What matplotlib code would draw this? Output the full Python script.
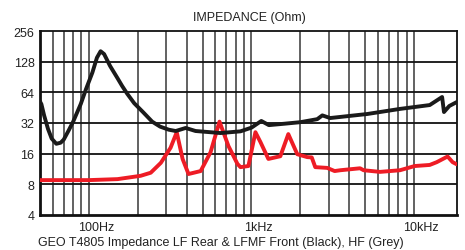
import matplotlib
matplotlib.use("Agg")
import matplotlib.pyplot as plt
from matplotlib.transforms import ScaledTranslation
from matplotlib.ticker import NullLocator, FixedLocator, NullFormatter

plt.rcParams['font.family'] = ['Liberation Sans', 'DejaVu Sans']

# Black: LF Rear & LFMF Front
black_freq = [50, 51, 53, 56, 59, 63, 67, 70, 75, 80, 89, 96, 105, 112, 118, 124, 135, 150,
              160, 172, 190, 215, 245, 274, 310, 342, 394, 453, 645, 856, 1000, 1150,
              1280, 1600, 2000, 2540, 2730, 3050, 5150, 8200, 12500, 14900, 15300, 16500,
              18400]
black_ohm = [52, 49, 38, 28, 22.5, 20, 20.5, 22, 27, 33, 49, 69, 100, 140, 162, 152, 116,
             88, 74, 62, 50, 41, 33, 29.5, 27.5, 26.7, 28.6, 26.7, 25.5, 26.5, 28.8, 33.5,
             30.5, 31.5, 32.6, 34.9, 38, 35.8, 39.2, 44, 48, 57.6, 41, 47, 51.5]

# Red: HF
red_freq = [50, 100, 150, 208, 240, 277, 318, 347, 377, 410, 487, 560, 636, 722, 820, 856,
            958, 1058, 1136, 1271, 1506, 1686, 1915, 2204, 2350, 2470, 2925, 3250, 3520,
            4660, 4900, 6180, 8200, 10100, 12500, 13800, 16100, 17300, 18300]
red_ohm = [8.8, 8.8, 9.0, 9.7, 10.4, 13, 18.3, 26, 14.2, 10.1, 10.8, 16.5, 33, 19, 12.7,
           11.8, 12.1, 26, 20.8, 14.2, 15.1, 24.9, 15.8, 14.8, 14.7, 11.8, 11.6, 10.8,
           11.0, 11.5, 11.0, 10.6, 11.0, 12.1, 12.4, 13.2, 15.0, 13.2, 12.6]

y_ticks = [4, 8, 16, 32, 64, 128, 256]
x_tick_vals = [100, 1000, 10000]
x_tick_labels = ["100Hz", "1kHz", "10kHz"]
v_grid = [60, 70, 80, 90, 100, 200, 300, 400, 500, 600, 700, 800, 900, 1000,
          2000, 3000, 4000, 5000, 6000, 7000, 8000, 9000, 10000]

W, H = 465, 251
fig = plt.figure(figsize=(W / 100, H / 100), dpi=100)
ax = fig.add_axes([40 / W, 1 - 216 / H, (457 - 40) / W, (216 - 32) / H])

ax.set_xscale('log')
ax.set_yscale('log', base=2)
ax.set_xlim(50, 18400)
ax.set_ylim(4, 256)

for v in v_grid:
    ax.axvline(v, color='#555555', lw=1.3, zorder=1)
for t in y_ticks[1:-1]:
    ax.axhline(t, color='#111111', lw=1.3, zorder=1)

ax.plot(red_freq, red_ohm, color='#ee1c25', lw=2.8, solid_joinstyle='round',
        solid_capstyle='round', zorder=3)
ax.plot(black_freq, black_ohm, color='#1a1a1a', lw=2.8, solid_joinstyle='round',
        solid_capstyle='round', zorder=4)

ax.yaxis.set_major_locator(FixedLocator(y_ticks))
ax.yaxis.set_minor_locator(NullLocator())
ax.set_yticklabels([str(t) for t in y_ticks])
ax.xaxis.set_major_locator(FixedLocator(x_tick_vals))
ax.xaxis.set_minor_locator(NullLocator())
ax.xaxis.set_minor_formatter(NullFormatter())
ax.set_xticklabels(x_tick_labels)
ax.tick_params(axis='both', length=0, labelsize=9, colors='#222222')
ax.tick_params(axis='y', pad=4)
ax.tick_params(axis='x', pad=4)
off = ScaledTranslation(7 / 100, 0, fig.dpi_scale_trans)
for lab in ax.get_xticklabels():
    lab.set_transform(lab.get_transform() + off)

for s in ['top', 'right']:
    ax.spines[s].set_linewidth(1.3)
    ax.spines[s].set_color('#111111')
for s in ['left', 'bottom']:
    ax.spines[s].set_linewidth(2)
    ax.spines[s].set_color('#111111')

fig.text(249 / W, 1 - 18 / H, "IMPEDANCE (Ohm)", ha='center', va='center',
         fontsize=9, color='#222222')
fig.text(38 / W, 1 - 243 / H,
         "GEO T4805 Impedance LF Rear & LFMF Front (Black), HF (Grey)",
         ha='left', va='center', fontsize=9, color='#222222')

fig.savefig("out.png", dpi=100)
